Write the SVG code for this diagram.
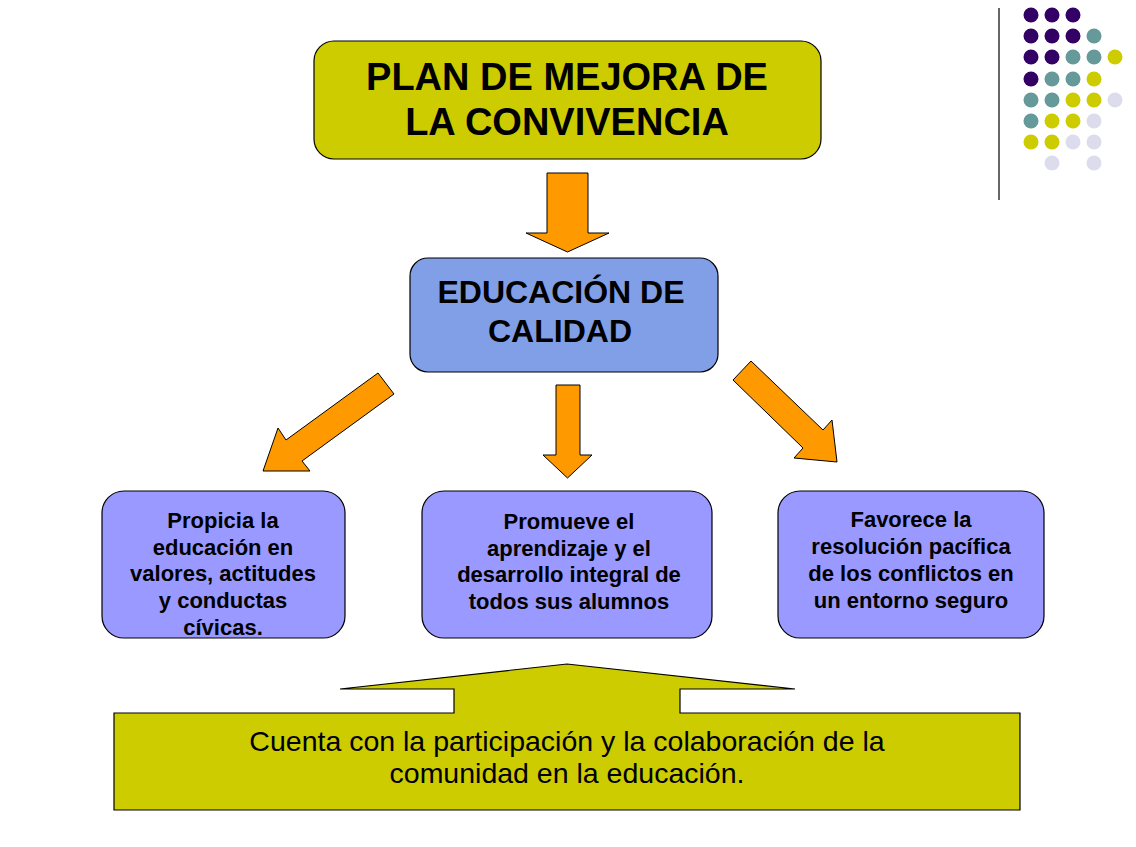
<svg xmlns="http://www.w3.org/2000/svg" width="1136" height="847" viewBox="0 0 1136 847">
<style>
.box{stroke:#000;stroke-width:1.2}
.arr{fill:#FF9900;stroke:#000;stroke-width:1}
.t{font-family:"Liberation Sans",Arial,sans-serif;fill:#000;text-anchor:middle}
.b{font-weight:bold}
.p{fill:#330066}.g{fill:#669999}.y{fill:#CCCC00}.l{fill:#DCDCEC}
</style>
<rect width="1136" height="847" fill="#fff"/>
<g id="decor">
<line x1="999" y1="8" x2="999" y2="200" stroke="#000" stroke-width="1.2"/>
<circle class="p" cx="1031" cy="15" r="7.5"/><circle class="p" cx="1052" cy="15" r="7.5"/><circle class="p" cx="1073" cy="15" r="7.5"/>
<circle class="p" cx="1031" cy="36" r="7.5"/><circle class="p" cx="1052" cy="36" r="7.5"/><circle class="p" cx="1073" cy="36" r="7.5"/><circle class="g" cx="1094" cy="36" r="7.5"/>
<circle class="p" cx="1031" cy="57" r="7.5"/><circle class="p" cx="1052" cy="57" r="7.5"/><circle class="g" cx="1073" cy="57" r="7.5"/><circle class="g" cx="1094" cy="57" r="7.5"/><circle class="y" cx="1115" cy="57" r="7.5"/>
<circle class="p" cx="1031" cy="79" r="7.5"/><circle class="g" cx="1052" cy="79" r="7.5"/><circle class="g" cx="1073" cy="79" r="7.5"/><circle class="y" cx="1094" cy="79" r="7.5"/>
<circle class="g" cx="1031" cy="100" r="7.5"/><circle class="g" cx="1052" cy="100" r="7.5"/><circle class="y" cx="1073" cy="100" r="7.5"/><circle class="y" cx="1094" cy="100" r="7.5"/><circle class="l" cx="1115" cy="100" r="7.5"/>
<circle class="g" cx="1031" cy="121" r="7.5"/><circle class="y" cx="1052" cy="121" r="7.5"/><circle class="y" cx="1073" cy="121" r="7.5"/><circle class="l" cx="1094" cy="121" r="7.5"/>
<circle class="y" cx="1031" cy="142" r="7.5"/><circle class="y" cx="1052" cy="142" r="7.5"/><circle class="l" cx="1073" cy="142" r="7.5"/><circle class="l" cx="1094" cy="142" r="7.5"/>
<circle class="l" cx="1052" cy="163" r="7.5"/><circle class="l" cx="1094" cy="163" r="7.5"/>
</g>
<g id="plan">
<rect class="box" x="314" y="41" width="507" height="118" rx="20" fill="#CCCC00"/>
<text class="t b" font-size="38" x="567" y="90">PLAN DE MEJORA DE</text>
<text class="t b" font-size="38" x="567" y="135">LA CONVIVENCIA</text>
</g>
<g id="calidad">
<rect class="box" x="410" y="258" width="308" height="114" rx="18" fill="#809FE6"/>
<text class="t b" font-size="32" x="561" y="303">EDUCACIÓN DE</text>
<text class="t b" font-size="32" x="560" y="342">CALIDAD</text>
</g>
<g id="valores">
<rect class="box" x="102" y="491" width="243" height="147" rx="22" fill="#9999FF"/>
<text class="t b" font-size="22" x="223" y="528">Propicia la</text>
<text class="t b" font-size="22" x="223" y="555">educación en</text>
<text class="t b" font-size="22" x="223" y="581">valores, actitudes</text>
<text class="t b" font-size="22" x="223" y="608">y conductas</text>
<text class="t b" font-size="22" x="223" y="635">cívicas.</text>
</g>
<g id="aprendizaje">
<rect class="box" x="422" y="491" width="290" height="147" rx="22" fill="#9999FF"/>
<text class="t b" font-size="22" x="569" y="529">Promueve el</text>
<text class="t b" font-size="22" x="569" y="556">aprendizaje y el</text>
<text class="t b" font-size="22" x="569" y="582">desarrollo integral de</text>
<text class="t b" font-size="22" x="569" y="609">todos sus alumnos</text>
</g>
<g id="conflictos">
<rect class="box" x="778" y="491" width="266" height="147" rx="22" fill="#9999FF"/>
<text class="t b" font-size="22" x="911" y="527">Favorece la</text>
<text class="t b" font-size="22" x="911" y="554">resolución pacífica</text>
<text class="t b" font-size="22" x="911" y="581">de los conflictos en</text>
<text class="t b" font-size="22" x="911" y="608">un entorno seguro</text>
</g>
<g id="comunidad">
<path class="box" fill="#CCCC00" d="M114,713 H454 V689 H340 L567,664 L795,689 H680 V713 H1020 V810 H114 Z"/>
<text class="t" font-size="28.5" x="567" y="751">Cuenta con la participación y la colaboración de la</text>
<text class="t" font-size="28.5" x="567" y="783">comunidad en la educación.</text>
</g>
<g id="connectors">
<path class="arr" d="M547,173 H588 V233 H609 L567.5,252 L526,233 H547 Z"/>
<path class="arr" d="M556,385 H580 V455 H592 L567.5,478 L543,455 H556 Z"/>
<path class="arr" d="M378,373 L394,394 L302,461 L310,471 L263,471 L278,428 L286,440 Z"/>
<path class="arr" d="M751,361 L733,380 L803,448 L794,458 L837,462 L832,420 L823,430 Z"/>
</g>
</svg>
